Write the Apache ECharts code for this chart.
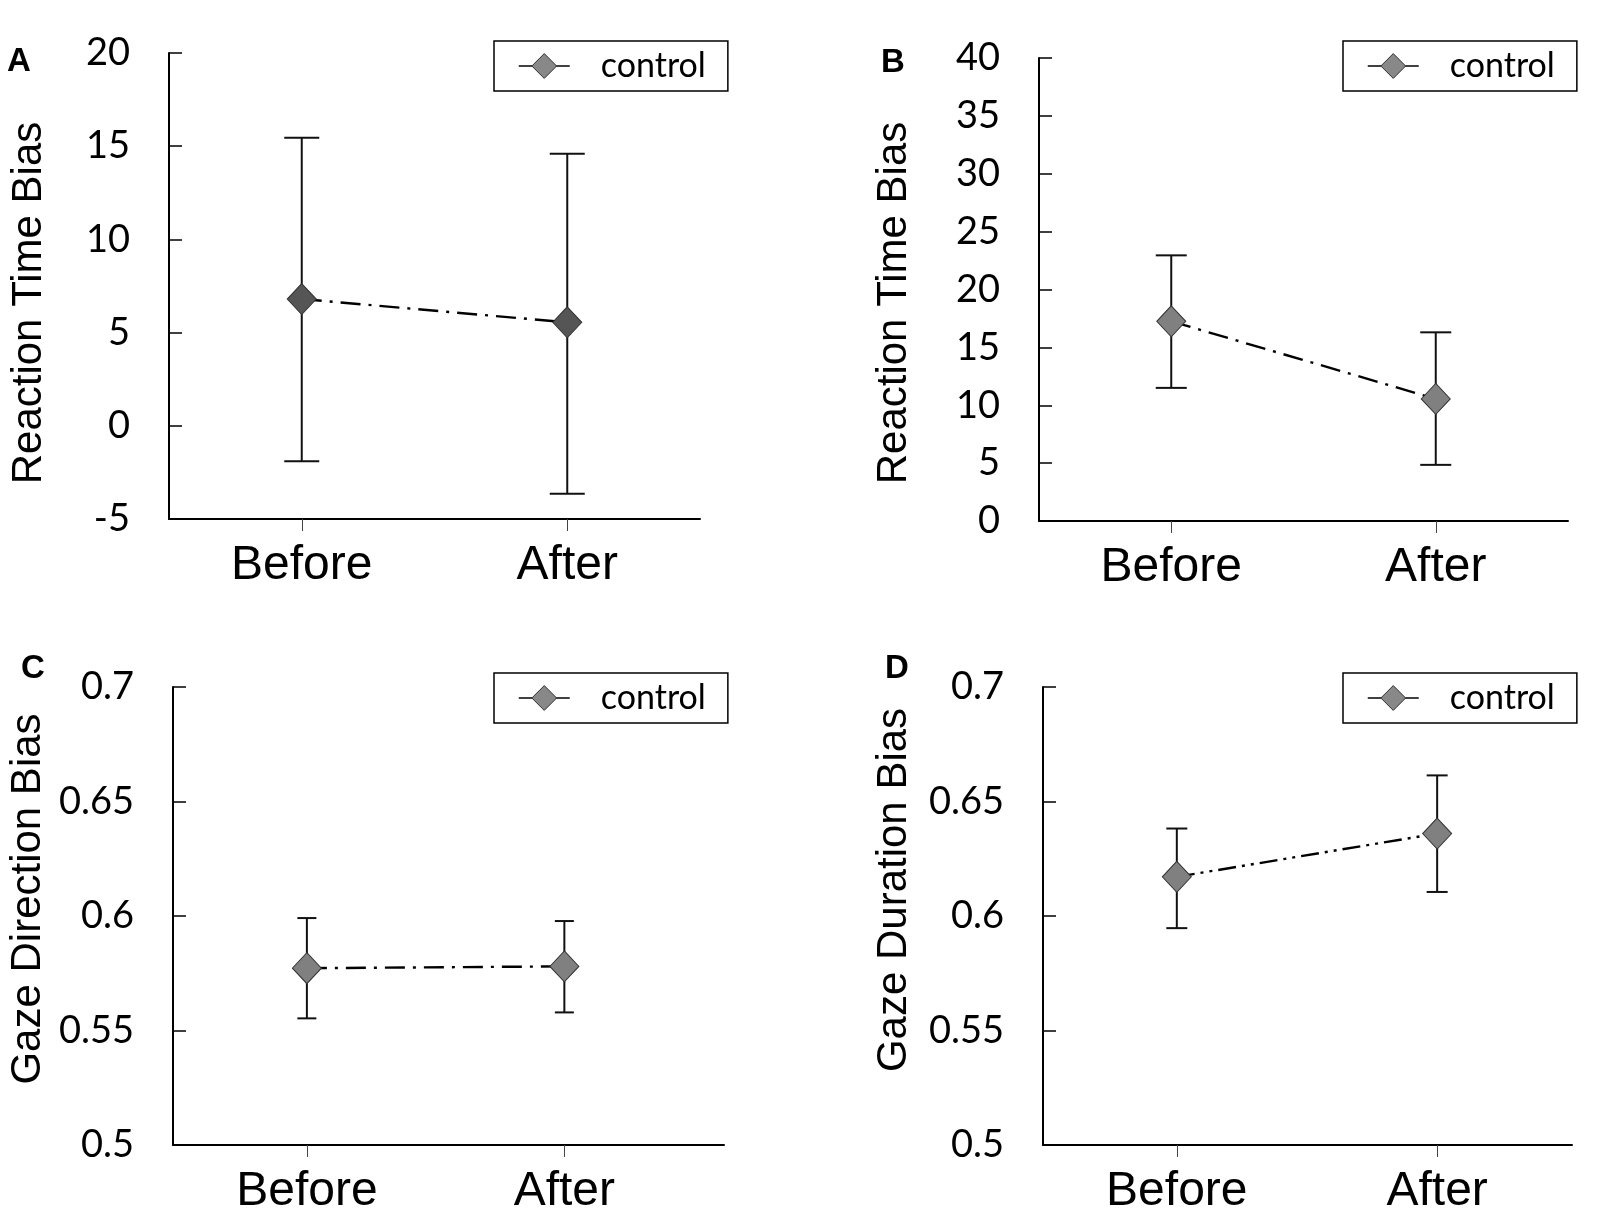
<!DOCTYPE html>
<html>
<head>
<meta charset="utf-8">
<script src="https://cdn.jsdelivr.net/npm/echarts@6/dist/echarts.min.js"></script>
<style>
	html,body{margin:0;padding:0;background:#fff;}
	#chart{width:1600px;height:1216px;}
</style>
</head>
<body>
<div id="chart"></div>
<script>
// data
var categories = ['Before', 'After'];
var legendName = 'control';

var meanA = [6.8, 5.55];
var lowA  = [-1.9, -3.65];
var highA = [15.45, 14.6];

var meanB = [17.25, 10.55];
var lowB  = [11.5, 4.85];
var highB = [22.95, 16.3];

var meanC = [0.5772, 0.578];
var lowC  = [0.5553, 0.5579];
var highC = [0.5991, 0.5978];

var meanD = [0.6171, 0.636];
var lowD  = [0.5947, 0.6105];
var highD = [0.6382, 0.6614];

var ticksA = {min: -5, max: 20, interval: 5};
var ticksB = {min: 0, max: 40, interval: 5};
var ticksCD = {min: 0.5, max: 0.7, interval: 0.05};

var chart = echarts.init(document.getElementById('chart'));

var tickFont = 'Lato, "Noto Sans", sans-serif';
var armFont = '"Liberation Sans", Arial, sans-serif';

var panels = [
	{grid: {left: 169, top: 53, width: 531, height: 466}, xr: [-0.5, 1.5], y: ticksA,
	 mean: meanA, low: lowA, high: highA, cap: 35, fill: '#555555', dash: [20, 8, 3, 8],
	 legend: {left: 494, top: 41}, title: 'Reaction Time Bias', tx: 29, ty: 303, letter: 'A', lx: 7, ly: 45},
	{grid: {left: 1039, top: 58, width: 529, height: 463}, xr: [-0.5, 1.5], y: ticksB,
	 mean: meanB, low: lowB, high: highB, cap: 31, fill: '#808080', dash: [20, 8, 3, 8],
	 legend: {left: 1343, top: 41}, title: 'Reaction Time Bias', tx: 894, ty: 303, letter: 'B', lx: 881, ly: 46},
	{grid: {left: 173, top: 687, width: 551, height: 465}, xr: [-0.52, 1.62], y: ticksCD,
	 mean: meanC, low: lowC, high: highC, cap: 19, fill: '#808080', dash: [20, 8, 3, 8],
	 legend: {left: 494, top: 673}, title: 'Gaze Direction Bias', tx: 28, ty: 899, letter: 'C', lx: 21, ly: 652},
	{grid: {left: 1043, top: 687, width: 529, height: 465}, xr: [-0.514, 1.518], y: ticksCD,
	 mean: meanD, low: lowD, high: highD, cap: 21, fill: '#808080', dash: [18, 6, 3, 6, 3, 6],
	 legend: {left: 1343, top: 673}, title: 'Gaze Duration Bias', tx: 894, ty: 890, letter: 'D', lx: 885, ly: 652}
];

var grids = [], xAxes = [], yAxes = [], series = [], legends = [], graphics = [];

panels.forEach(function (p, i) {
	grids.push(p.grid);
	xAxes.push({
		type: 'value', gridIndex: i, min: p.xr[0], max: p.xr[1],
		splitLine: {show: false},
		axisLine: {show: true, onZero: false, lineStyle: {color: '#000', width: 2}},
		axisTick: {show: true, customValues: [0, 1], length: 12, lineStyle: {color: '#444', width: 1}},
		axisLabel: {
			customValues: [0, 1], margin: 23,
			fontFamily: armFont, fontSize: 48, color: '#000',
			formatter: function (v) { return categories[Math.round(v)]; }
		}
	});
	yAxes.push({
		type: 'value', gridIndex: i, min: p.y.min, max: p.y.max, interval: p.y.interval,
		splitLine: {show: false},
		axisLine: {show: true, onZero: false, lineStyle: {color: '#000', width: 2}},
		axisTick: {show: true, inside: true, length: 13, lineStyle: {color: '#000', width: 1.5}},
		axisLabel: {margin: 39, padding: [8, 0, 0, 0], fontFamily: tickFont, fontSize: 38, color: '#000'}
	});

	var errData = categories.map(function (c, k) { return [k, p.low[k], p.high[k]]; });
	var cap = p.cap;
	series.push({
		type: 'custom', name: 'err' + i, xAxisIndex: i, yAxisIndex: i, z: 1,
		data: errData,
		renderItem: function (params, api) {
			var lo = api.coord([api.value(0), api.value(1)]);
			var hi = api.coord([api.value(0), api.value(2)]);
			var st = {stroke: '#111', lineWidth: 2};
			return {
				type: 'group',
				children: [
					{type: 'line', shape: {x1: lo[0], y1: lo[1], x2: hi[0], y2: hi[1]}, style: st},
					{type: 'line', shape: {x1: hi[0] - cap / 2, y1: hi[1], x2: hi[0] + cap / 2, y2: hi[1]}, style: st},
					{type: 'line', shape: {x1: lo[0] - cap / 2, y1: lo[1], x2: lo[0] + cap / 2, y2: lo[1]}, style: st}
				]
			};
		}
	});
	series.push({
		type: 'line', name: legendName, xAxisIndex: i, yAxisIndex: i, z: 3,
		data: categories.map(function (c, k) { return [k, p.mean[k]]; }),
		symbol: 'diamond', symbolSize: [29, 31],
		itemStyle: {color: p.fill, borderColor: '#333', borderWidth: 1},
		lineStyle: {color: '#000', width: 2.4, type: p.dash},
		emphasis: {disabled: true},
		animation: false
	});

	legends.push({
		left: p.legend.left, top: p.legend.top,
		data: [legendName],
		orient: 'horizontal',
		itemWidth: 51, itemHeight: 31,
		padding: [8, 22, 8, 24],
		borderColor: '#000', borderWidth: 1.5,
		selectedMode: false,
		lineStyle: {type: 'solid', color: '#000', width: 1.5},
		itemStyle: {color: '#888888', borderColor: '#333', borderWidth: 1},
		textStyle: {fontFamily: tickFont, fontSize: 34, color: '#000', padding: [0, 0, 0, 26]}
	});

	graphics.push({
		type: 'text', x: p.tx, y: p.ty, rotation: Math.PI / 2,
		style: {text: p.title, font: '42px ' + armFont, fill: '#000', align: 'center', verticalAlign: 'middle'}
	});
	graphics.push({
		type: 'text', x: p.lx, y: p.ly,
		style: {text: p.letter, font: 'bold 33px ' + armFont, fill: '#000'}
	});
});

chart.setOption({
	animation: false,
	backgroundColor: '#fff',
	grid: grids,
	xAxis: xAxes,
	yAxis: yAxes,
	legend: legends,
	graphic: graphics,
	series: series
});
</script>
</body>
</html>
